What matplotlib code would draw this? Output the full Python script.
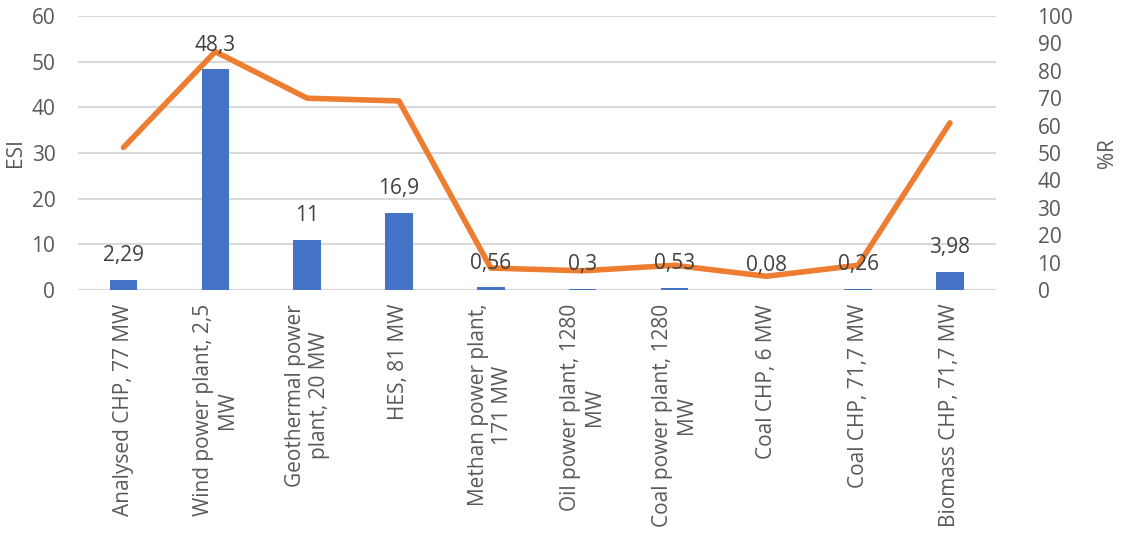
import matplotlib

matplotlib.use("Agg")
import matplotlib.pyplot as plt
import numpy as np

categories = [
    "Analysed CHP, 77 MW",
    "Wind power plant, 2,5\nMW",
    "Geothermal power\nplant, 20 MW",
    "HES, 81 MW",
    "Methan power plant,\n171 MW",
    "Oil power plant, 1280\nMW",
    "Coal power plant, 1280\nMW",
    "Coal CHP, 6 MW",
    "Coal CHP, 71,7 MW",
    "Biomass CHP, 71,7 MW",
]
esi = [2.29, 48.3, 11, 16.9, 0.56, 0.3, 0.53, 0.08, 0.26, 3.98]
esi_labels = ["2,29", "48,3", "11", "16,9", "0,56", "0,3", "0,53", "0,08", "0,26", "3,98"]
pct_r = [52, 87, 70, 69, 8, 7, 9, 5, 9, 61]

plt.rcParams["font.family"] = ["Open Sans", "DejaVu Sans"]
txt = "#595959"

fig, ax = plt.subplots(figsize=(11.24, 5.34), dpi=100)
fig.subplots_adjust(left=0.069, right=0.886, top=0.97, bottom=0.457)
x = np.arange(len(categories))

ax.bar(x, esi, width=0.3, color="#4472C4", zorder=2)

ax.set_ylim(0, 60)
ax.set_yticks(range(0, 61, 10))
ax.set_xlim(-0.5, len(categories) - 0.5)
ax.set_xticks(x)
ax.set_xticklabels(categories, rotation=90, ha="center", va="top",
                   multialignment="center", fontsize=14, color=txt)
ax.set_ylabel("ESI", fontsize=15, color=txt, labelpad=4)
ax.grid(axis="y", color="#d9d9d9", lw=1.5, zorder=0)
ax.tick_params(length=0, labelsize=15, labelcolor=txt)
ax.tick_params(axis="y", pad=16)
ax.tick_params(axis="x", pad=10)
for s in ax.spines.values():
    s.set_visible(False)

ax2 = ax.twinx()
ax2.plot(x, pct_r, color="#ED7D31", lw=4, solid_capstyle="round", zorder=3)
ax2.set_ylim(0, 100)
ax2.set_yticks(range(0, 101, 10))
ax2.tick_params(length=0, labelsize=15, labelcolor=txt, pad=30)
ax2.set_ylabel("%R", fontsize=15, color=txt, labelpad=17)
for s in ax2.spines.values():
    s.set_visible(False)

for xi, v, lab in zip(x, esi, esi_labels):
    ax2.annotate(lab, (xi, v), xycoords=ax.transData, xytext=(0, 10),
                 textcoords="offset points", ha="center", va="bottom",
                 fontsize=15, color="#404040", zorder=5)

fig.savefig("out.png", dpi=100)
